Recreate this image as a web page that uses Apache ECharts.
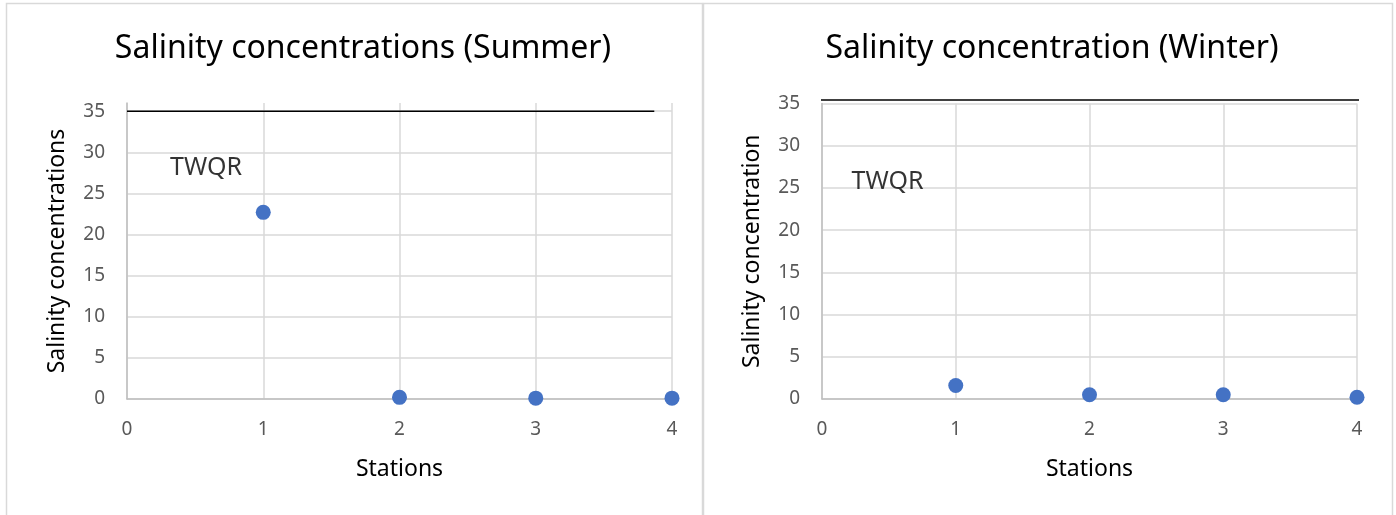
<!DOCTYPE html>
<html>
<head>
<meta charset="utf-8">
<script src="https://cdn.jsdelivr.net/npm/echarts@6/dist/echarts.min.js"></script>
<style>
  html, body { margin: 0; padding: 0; background: #fff; }
  #chart { width: 1396px; height: 515px; }
</style>
</head>
<body>
<div id="chart"></div>
<script>
(function () {
  // ── Data ───────────────────────────────────────────────────────────────────
  const stations = [1, 2, 3, 4];
  const summerSalinity = [22.7, 0.2, 0.1, 0.1];
  const winterSalinity = [1.6, 0.5, 0.5, 0.2];

  // TWQR guideline (x span, level) and its label anchor in data units
  const summerTwqrX = [0, 3.87];
  const summerTwqrY = 35;
  const winterTwqrX = [-0.02, 4.02];
  const winterTwqrY = 35.4;
  const summerTwqrLabel = [0.58, 28.1];
  const winterTwqrLabel = [0.49, 25.7];

  const titles = ["Salinity concentrations (Summer)", "Salinity concentration (Winter)"];
  const yNames = ["Salinity concentrations", "Salinity concentration"];
  const xName = "Stations";

  const FONT = "'Noto Sans', 'Open Sans', sans-serif";
  const GRID = "#d9d9d9";
  const AXIS = "#bfbfbf";
  const LABEL = "#595959";
  const BLUE = "#4472c4";

  const chart = echarts.init(document.getElementById("chart"));

  function xAxis(gridIndex) {
    return {
      type: "value",
      gridIndex: gridIndex,
      min: 0,
      max: 4,
      interval: 1,
      name: xName,
      nameLocation: "middle",
      nameGap: 59,
      nameTextStyle: { fontFamily: FONT, fontSize: 23, color: "#000" },
      axisLine: { show: true, lineStyle: { color: AXIS, width: 1.5 } },
      axisTick: { show: false },
      axisLabel: { fontFamily: FONT, fontSize: 19, color: LABEL, margin: 21 },
      splitLine: { show: true, lineStyle: { color: GRID, width: 1.5 } },
    };
  }

  function yAxis(gridIndex, max) {
    return {
      type: "value",
      gridIndex: gridIndex,
      min: 0,
      max: max,
      interval: 5,
      name: yNames[gridIndex],
      nameLocation: "middle",
      nameGap: 58,
      nameTextStyle: { fontFamily: FONT, fontSize: 23, color: "#000" },
      axisLine: { show: true, lineStyle: { color: AXIS, width: 1.5 } },
      axisTick: { show: false },
      axisLabel: {
        fontFamily: FONT,
        fontSize: 19,
        color: LABEL,
        margin: 22,
        showMaxLabel: max % 5 === 0,
      },
      splitLine: {
        show: true,
        showMaxLine: max % 5 === 0,
        lineStyle: { color: GRID, width: 1.5 },
      },
    };
  }

  function points(xs, ys) {
    return xs.map((x, i) => [x, ys[i]]);
  }

  function twqrLabel(gridIndex, pos) {
    return {
      name: "TWQR label",
      type: "scatter",
      xAxisIndex: gridIndex,
      yAxisIndex: gridIndex,
      symbolSize: 0,
      data: [pos],
      label: {
        show: true,
        position: "inside",
        formatter: "TWQR",
        fontFamily: FONT,
        fontSize: 25,
        color: "#000",
      },
      silent: true,
    };
  }

  function twqrLine(gridIndex, xs, y) {
    return {
      name: "TWQR",
      type: "line",
      xAxisIndex: gridIndex,
      yAxisIndex: gridIndex,
      data: xs.map((x) => [x, y]),
      symbol: "none",
      clip: false,
      lineStyle: { color: "#000", width: 1.5 },
      z: 3,
    };
  }

  function stationPoints(gridIndex, ys) {
    return {
      type: "scatter",
      xAxisIndex: gridIndex,
      yAxisIndex: gridIndex,
      symbolSize: 15,
      clip: false,
      itemStyle: { color: BLUE, opacity: 1 },
      data: points(stations, ys),
      z: 4,
    };
  }

  const titleStyle = { fontFamily: FONT, fontSize: 32, fontWeight: "normal", color: "#000" };

  const option = {
    animation: false,
    backgroundColor: "#fff",
    title: [
      { text: titles[0], left: 358, top: 28, textAlign: "center", textStyle: titleStyle },
      { text: titles[1], left: 1047, top: 28, textAlign: "center", textStyle: titleStyle },
    ],
    graphic: [
      {
        type: "rect",
        shape: { x: 6.5, y: 3.5, width: 696, height: 540 },
        style: { fill: "none", stroke: GRID, lineWidth: 1.5 },
        silent: true,
      },
      {
        type: "rect",
        shape: { x: 703.5, y: 3.5, width: 689, height: 540 },
        style: { fill: "none", stroke: GRID, lineWidth: 1.5 },
        silent: true,
      },
    ],
    grid: [
      { left: 127, top: 103, width: 545, height: 296 },
      { left: 822, top: 103.5, width: 535, height: 295.5 },
    ],
    xAxis: [xAxis(0), xAxis(1)],
    yAxis: [yAxis(0, 36), yAxis(1, 35)],
    series: [
      twqrLine(0, summerTwqrX, summerTwqrY),
      twqrLine(1, winterTwqrX, winterTwqrY),
      twqrLabel(0, summerTwqrLabel),
      twqrLabel(1, winterTwqrLabel),
      Object.assign({ name: "Summer" }, stationPoints(0, summerSalinity)),
      Object.assign({ name: "Winter" }, stationPoints(1, winterSalinity)),
    ],
  };

  chart.setOption(option);
})();
</script>
</body>
</html>
